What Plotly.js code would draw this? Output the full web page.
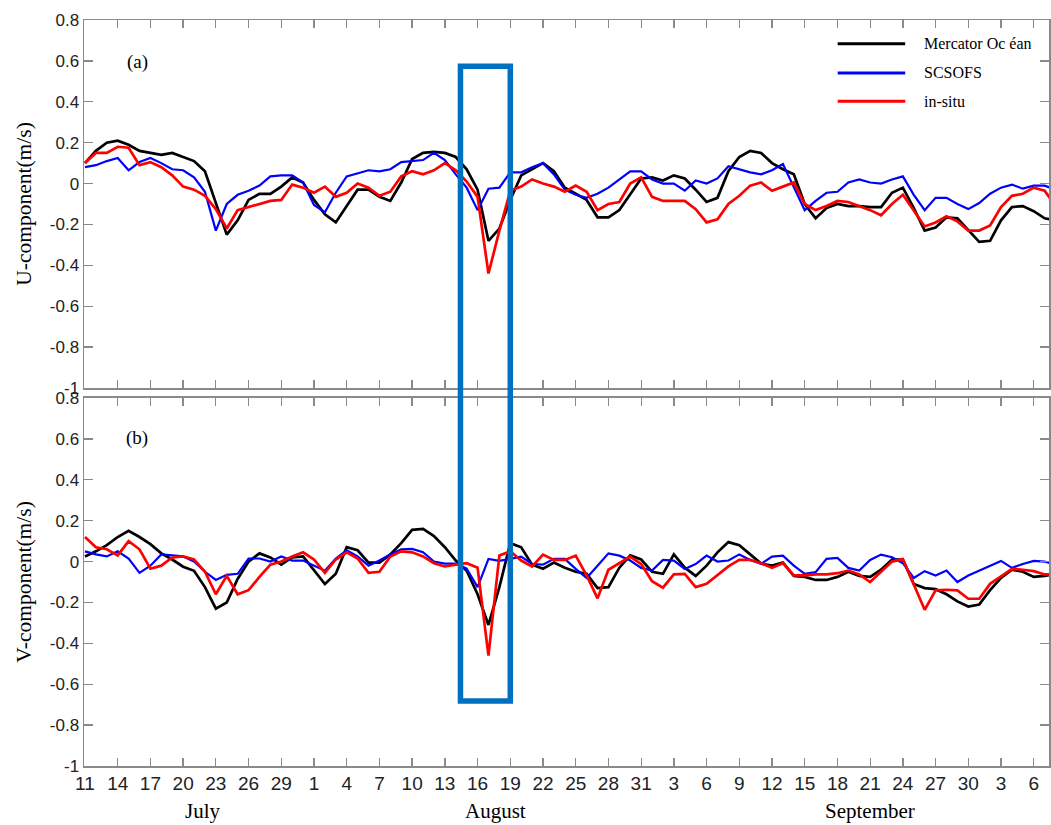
<!DOCTYPE html>
<html>
<head>
<meta charset="utf-8">
<script src="https://cdn.plot.ly/plotly-3.0.1.min.js"></script>
<style>
  html, body { margin: 0; padding: 0; background: #fff; }
  #chart { width: 1051px; height: 825px; }
</style>
</head>
<body>
<div id="chart"></div>
<script>
// Daily current components from 11 July to 8 October (m/s)
const uMercator = [
  0.10, 0.16, 0.20, 0.21, 0.19, 0.16, 0.15, 0.14, 0.15, 0.13,
  0.11, 0.06, -0.09, -0.25, -0.18, -0.08, -0.05, -0.05, -0.015, 0.03,
  0.005, -0.08, -0.15, -0.19, -0.11, -0.03, -0.03, -0.065, -0.085, 0.005,
  0.12, 0.15, 0.155, 0.15, 0.13, 0.07, -0.03, -0.28, -0.22, -0.08,
  0.04, 0.07, 0.10, 0.06, -0.02, -0.05, -0.08, -0.165, -0.165, -0.13,
  -0.05, 0.025, 0.03, 0.015, 0.04, 0.025, -0.03, -0.09, -0.07, 0.06,
  0.13, 0.16, 0.15, 0.10, 0.07, 0.045, -0.10, -0.17, -0.12, -0.10,
  -0.11, -0.11, -0.115, -0.115, -0.045, -0.02, -0.12, -0.23, -0.215, -0.165,
  -0.17, -0.23, -0.285, -0.28, -0.18, -0.115, -0.11, -0.135, -0.17, -0.18
];
const uScsofs = [
  0.08, 0.09, 0.11, 0.125, 0.065, 0.105, 0.125, 0.10, 0.07, 0.065,
  0.03, -0.04, -0.23, -0.10, -0.055, -0.035, -0.01, 0.035, 0.04, 0.04,
  0.005, -0.105, -0.14, -0.045, 0.035, 0.05, 0.065, 0.06, 0.07, 0.105,
  0.11, 0.115, 0.15, 0.115, 0.045, -0.02, -0.13, -0.025, -0.02, 0.055,
  0.055, 0.08, 0.10, 0.045, -0.03, -0.055, -0.07, -0.05, -0.02, 0.02,
  0.06, 0.06, 0.02, 0.0, 0.0, -0.035, 0.015, 0.0, 0.025, 0.085,
  0.07, 0.055, 0.045, 0.065, 0.095, -0.02, -0.13, -0.085, -0.045, -0.04,
  0.005, 0.02, 0.005, 0.0, 0.02, 0.035, -0.055, -0.13, -0.07, -0.07,
  -0.10, -0.125, -0.095, -0.05, -0.02, -0.005, -0.025, -0.01, -0.01, -0.03
];
const uInSitu = [
  0.10, 0.15, 0.15, 0.18, 0.175, 0.09, 0.105, 0.08, 0.04, -0.015,
  -0.03, -0.06, -0.125, -0.22, -0.13, -0.115, -0.10, -0.085, -0.08, -0.005,
  -0.02, -0.045, -0.015, -0.065, -0.045, 0.0, -0.02, -0.06, -0.04, 0.035,
  0.06, 0.045, 0.065, 0.10, 0.065, 0.01, -0.065, -0.44, -0.23, -0.035,
  -0.015, 0.02, 0.0, -0.015, -0.04, -0.01, -0.04, -0.13, -0.10, -0.09,
  0.0, 0.03, -0.065, -0.085, -0.085, -0.085, -0.125, -0.19, -0.175, -0.10,
  -0.06, -0.01, 0.005, -0.035, -0.015, 0.005, -0.10, -0.13, -0.11, -0.085,
  -0.09, -0.11, -0.13, -0.155, -0.10, -0.055, -0.13, -0.21, -0.19, -0.16,
  -0.185, -0.23, -0.23, -0.205, -0.115, -0.06, -0.05, -0.02, -0.035, -0.11
];
const vMercator = [
  0.025, 0.05, 0.08, 0.12, 0.15, 0.12, 0.085, 0.04, 0.01, -0.025,
  -0.045, -0.125, -0.23, -0.20, -0.085, 0.0, 0.04, 0.02, -0.015, 0.02,
  0.025, -0.045, -0.11, -0.06, 0.07, 0.055, -0.005, -0.005, 0.035, 0.09,
  0.155, 0.16, 0.125, 0.07, 0.005, -0.045, -0.16, -0.31, -0.125, 0.09,
  0.07, -0.015, -0.035, -0.005, -0.03, -0.05, -0.06, -0.13, -0.125, -0.03,
  0.03, 0.01, -0.05, -0.06, 0.035, -0.03, -0.07, -0.02, 0.045, 0.095,
  0.08, 0.035, -0.01, -0.02, -0.005, -0.07, -0.075, -0.09, -0.09, -0.075,
  -0.05, -0.07, -0.075, -0.04, 0.01, 0.01, -0.11, -0.13, -0.135, -0.16,
  -0.195, -0.22, -0.21, -0.14, -0.08, -0.04, -0.05, -0.075, -0.07, -0.06
];
const vScsofs = [
  0.05, 0.035, 0.025, 0.05, 0.015, -0.055, -0.02, 0.035, 0.03, 0.025,
  0.0, -0.05, -0.09, -0.065, -0.06, 0.015, 0.015, 0.0, 0.025, 0.005,
  0.005, -0.02, -0.045, 0.015, 0.055, 0.025, -0.02, 0.005, 0.035, 0.06,
  0.062, 0.046, 0.0, -0.01, -0.01, -0.035, -0.125, 0.013, 0.003, 0.013,
  0.024, -0.012, -0.015, 0.013, 0.013, -0.036, -0.08, -0.02, 0.04, 0.029,
  0.005, -0.031, -0.044, 0.008, 0.005, -0.036, -0.012, 0.029, 0.0, 0.005,
  0.035, 0.008, -0.011, 0.024, 0.029, -0.02, -0.06, -0.052, 0.013, 0.018,
  -0.031, -0.044, 0.008, 0.034, 0.021, -0.008, -0.08, -0.047, -0.068, -0.044,
  -0.10, -0.068, -0.044, -0.02, 0.003, -0.031, -0.012, 0.003, 0.0, -0.015
];
const vInSitu = [
  0.12, 0.07, 0.06, 0.03, 0.10, 0.06, -0.035, -0.02, 0.02, 0.025,
  0.01, -0.05, -0.16, -0.07, -0.16, -0.14, -0.075, -0.015, 0.0, 0.025,
  0.045, 0.01, -0.055, 0.01, 0.045, 0.015, -0.055, -0.05, 0.025, 0.05,
  0.045, 0.025, -0.008, -0.024, -0.015, -0.008, -0.03, -0.46, 0.03, 0.05,
  0.005, -0.024, 0.034, 0.008, 0.008, 0.029, -0.068, -0.18, -0.04, -0.008,
  0.024, -0.012, -0.096, -0.128, -0.063, -0.06, -0.125, -0.109, -0.068, -0.024,
  0.008, 0.008, -0.008, -0.031, -0.008, -0.068, -0.068, -0.063, -0.063, -0.057,
  -0.044, -0.063, -0.10, -0.052, 0.0, 0.012, -0.11, -0.236, -0.141, -0.138,
  -0.141, -0.182, -0.182, -0.109, -0.073, -0.036, -0.04, -0.047, -0.063, -0.063
];

const seriesNames = ['Mercator Oc éan', 'SCSOFS', 'in-situ'];
const seriesColors = ['#000000', '#0000ff', '#ff0000'];
const seriesWidths = [2.7, 2.2, 2.7];
const panelLabels = ['(a)', '(b)'];
const axisTitles = ['U-component(m/s)', 'V-component(m/s)'];
const dayTickLabels = ['11','14','17','20','23','26','29','1','4','7','10','13','16','19','22',
                       '25','28','31','3','6','9','12','15','18','21','24','27','30','3','6'];
const monthLabels = ['July', 'August', 'September'];
const yTickVals = [-1, -0.8, -0.6, -0.4, -0.2, 0, 0.2, 0.4, 0.6, 0.8];
const yTickText = ['-1', '-0.8', '-0.6', '-0.4', '-0.2', '0', '0.2', '0.4', '0.6', '0.8'];

// Daily time axis starting 11 July
const DAY = 86400000;
const t0 = Date.UTC(2014, 6, 11);
const stamp = ms => new Date(ms).toISOString().replace('T', ' ').slice(0, 19);
const dates = uMercator.map((_, i) => stamp(t0 + i * DAY));
const tickDates = dayTickLabels.map((_, i) => stamp(t0 + i * 3 * DAY));
const xRange = [stamp(t0 - 0.09 * DAY), stamp(t0 + 88.4 * DAY)];

const uSeries = [uMercator, uScsofs, uInSitu];
const vSeries = [vMercator, vScsofs, vInSitu];
const traces = [];
[uSeries, vSeries].forEach((group, p) => {
  group.forEach((vals, k) => {
    traces.push({
      type: 'scatter', mode: 'lines', name: seriesNames[k],
      x: dates, y: vals,
      xaxis: p === 0 ? 'x' : 'x2', yaxis: p === 0 ? 'y' : 'y2',
      line: { color: seriesColors[k], width: seriesWidths[k], shape: 'linear' },
      showlegend: false, hoverinfo: 'skip'
    });
  });
});

const axisGray = '#8a8a8a';
const tickFont = { family: 'Liberation Sans, Arial, sans-serif', size: 17, color: '#222' };
const serif = 'Liberation Serif, Times New Roman, serif';

const xCommon = {
  type: 'date', range: xRange, tickvals: tickDates, ticktext: dayTickLabels,
  ticks: 'inside', ticklen: 8, tickwidth: 1.3, tickcolor: axisGray,
  showline: true, linecolor: axisGray, linewidth: 1.5, mirror: 'ticks',
  showgrid: false, zeroline: false, fixedrange: true
};
const yCommon = {
  range: [-1, 0.8], tickvals: yTickVals, ticktext: yTickText,
  ticks: 'inside', ticklen: 9, tickwidth: 1.3, tickcolor: axisGray,
  showline: true, linecolor: axisGray, linewidth: 1.5, mirror: 'ticks',
  showgrid: false, zeroline: false, tickfont: tickFont, fixedrange: true
};

const layout = {
  width: 1051, height: 825,
  margin: { l: 84, r: 2, t: 20, b: 59 },
  paper_bgcolor: '#fff', plot_bgcolor: '#fff',
  showlegend: false,
  xaxis: Object.assign({}, xCommon, { anchor: 'y', showticklabels: false }),
  xaxis2: Object.assign({}, xCommon, {
    anchor: 'y2', matches: 'x', showticklabels: true,
    tickfont: { family: 'Liberation Sans Narrow, Arial Narrow, Liberation Sans, sans-serif', size: 19, color: '#222' }
  }),
  yaxis: Object.assign({}, yCommon, {
    domain: [0.5067, 1], anchor: 'x',
    title: { text: axisTitles[0], font: { family: serif, size: 21.5, color: '#000' }, standoff: 12 }
  }),
  yaxis2: Object.assign({}, yCommon, {
    domain: [0, 0.4933], anchor: 'x2',
    title: { text: axisTitles[1], font: { family: serif, size: 21.5, color: '#000' }, standoff: 12 }
  }),
  shapes: [
    // highlighted event window spanning both panels
    { type: 'rect', xref: 'x', yref: 'paper',
      x0: stamp(t0 + 34.43 * DAY), x1: stamp(t0 + 39.0 * DAY), y0: 0.0871, y1: 0.938,
      line: { color: '#0070c0', width: 5.5 }, fillcolor: 'rgba(0,0,0,0)' }
  ],
  annotations: [
    { text: panelLabels[0], xref: 'paper', yref: 'paper', x: 0.055, y: 0.944,
      xanchor: 'center', yanchor: 'middle',
      showarrow: false, font: { family: serif, size: 19, color: '#000' } },
    { text: panelLabels[1], xref: 'paper', yref: 'paper', x: 0.055, y: 0.44,
      xanchor: 'center', yanchor: 'middle',
      showarrow: false, font: { family: serif, size: 19, color: '#000' } }
  ]
};

// Legend drawn in the upper right of panel (a)
const legendRows = [0.968, 0.929, 0.891];
seriesNames.forEach((name, k) => {
  layout.shapes.push({ type: 'line', xref: 'paper', yref: 'paper',
    x0: 0.781, x1: 0.851, y0: legendRows[k], y1: legendRows[k],
    line: { color: seriesColors[k], width: 3 } });
  layout.annotations.push({ text: name, xref: 'paper', yref: 'paper',
    x: 0.868, y: legendRows[k], xanchor: 'left', yanchor: 'middle', showarrow: false,
    font: { family: serif, size: 16, color: '#000' } });
});

// Month names under the day ticks
const monthX = [0.123, 0.426, 0.814];
monthLabels.forEach((m, i) => {
  layout.annotations.push({ text: m, xref: 'paper', yref: 'paper',
    x: monthX[i], y: -0.06, xanchor: 'center', yanchor: 'middle', showarrow: false,
    font: { family: serif, size: 21, color: '#000' } });
});

Plotly.newPlot('chart', traces, layout, { staticPlot: true, displayModeBar: false });
</script>
</body>
</html>
